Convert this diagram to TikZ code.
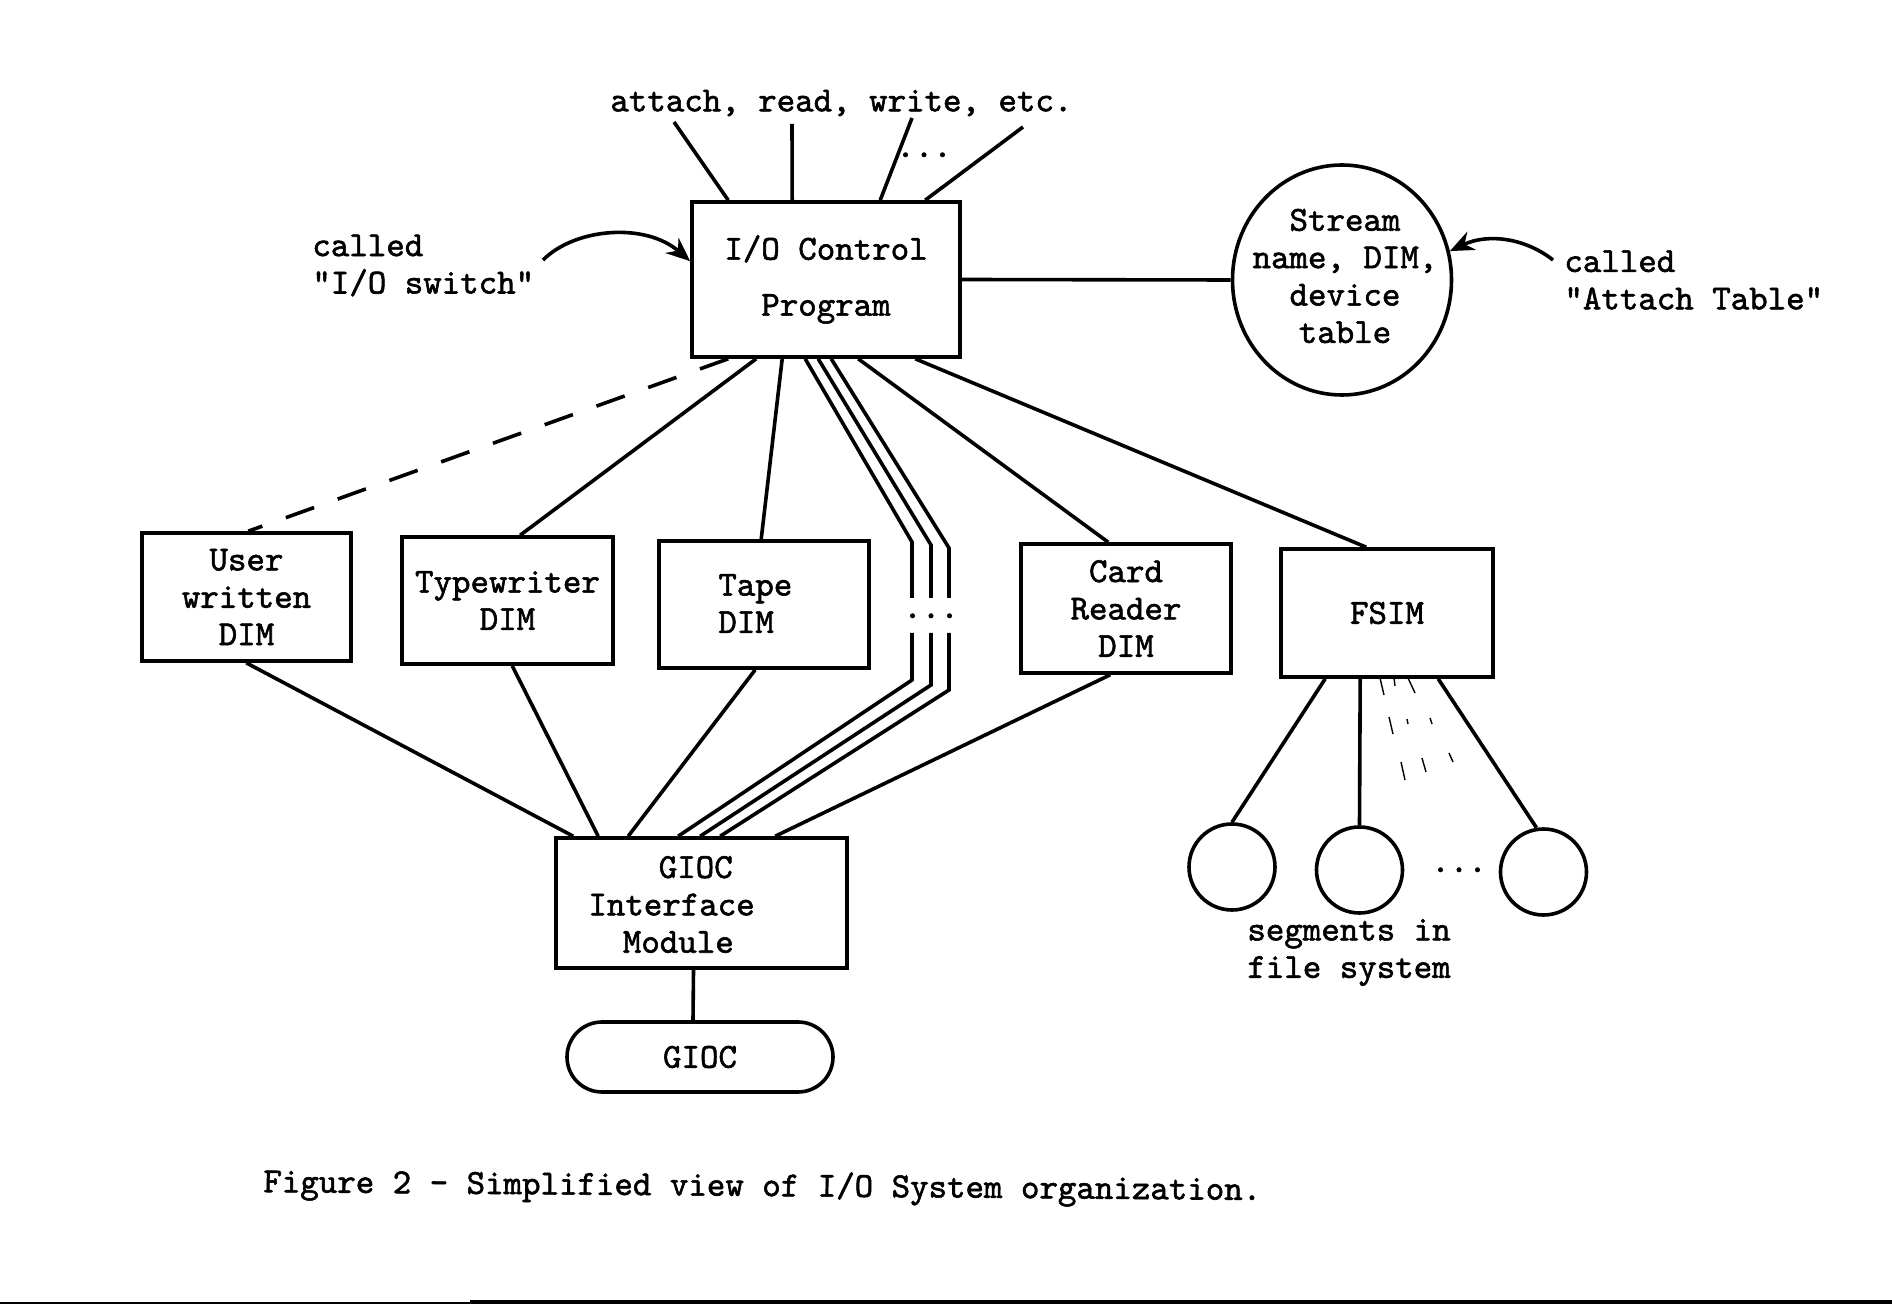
\documentclass[tikz,border=0pt]{standalone}
\usepackage{fontspec}
\newfontfamily\twf{lmmono10-regular}[Extension=.otf,FakeBold=1.6]
\usetikzlibrary{shapes.geometric,arrows.meta}
\begin{document}
\begin{tikzpicture}[x=0.5pt,y=-0.5pt,
  tw/.style={font=\fontsize{17.6pt}{18.7pt}\selectfont\twf},
  txt/.style={tw,inner sep=0pt},
  box/.style={draw,line width=1.8pt,rectangle,inner sep=0pt,tw,align=center},
  ln/.style={line width=1.8pt},
  arr/.style={line width=1.8pt,-{Stealth[length=12pt,width=10pt]}},
  faint/.style={line width=0.7pt}]
\useasboundingbox (0,0) rectangle (1892,1304);
\fill[white] (0,0) rectangle (1892,1304);

% boxes
\node[box,minimum width=134pt,minimum height=77.5pt] (io) at (826,279.5) {I/O Control\\[9.3pt]Program};
\node[draw,ellipse,line width=1.8pt,inner sep=0pt,minimum width=109.5pt,minimum height=115pt] (stream) at (1342,280) {};
\node[txt,align=center] (streamtxt) at (1345,276) {Stream\\name, DIM,\\device\\table};
\node[box,minimum width=104.5pt,minimum height=64pt] (user) at (246.5,597) {User\\written\\DIM};
\node[box,minimum width=105.5pt,minimum height=63.5pt] (tw) at (507.5,600.5) {Typewriter\\DIM};
\node[box,minimum width=105pt,minimum height=63.5pt] (tape) at (764,604.5) {};
\node[txt,align=left,anchor=west] (tapetxt) at (718,603.5) {Tape\\DIM};
\node[box,minimum width=105pt,minimum height=64.5pt] (card) at (1126,608.5) {Card\\Reader\\DIM};
\node[box,minimum width=106pt,minimum height=64pt] (fsim) at (1387,613) {FSIM};
\node[box,minimum width=145.5pt,minimum height=65pt] (gim) at (701.5,903) {};
\node[txt,align=left,anchor=west] (gimtxt) at (588,904.5) {\hspace*{2em}GIOC\\Interface\\\hspace*{0.98em}Module};
\node[draw,line width=1.8pt,rounded corners=17.5pt,minimum width=133pt,minimum height=35pt,inner sep=0pt,tw] (gioc) at (700,1057) {GIOC};
\node[draw,circle,line width=1.8pt,minimum size=43pt,inner sep=0pt] (seg1) at (1232,867) {};
\node[draw,circle,line width=1.8pt,minimum size=43pt,inner sep=0pt] (seg2) at (1359.5,870) {};
\node[draw,circle,line width=1.8pt,minimum size=43pt,inner sep=0pt] (seg3) at (1543.5,872) {};

% texts
\node[txt,anchor=west] (cmds) at (610,103) {attach, read, write, etc.};
\node[txt,anchor=west,align=left] (swl) at (312,265.5) {called\\"I/O switch"};
\node[txt,anchor=west,align=left] (atl) at (1564,280) {called\\"Attach Table"};
\node[txt,anchor=west,align=left] (segl) at (1247,952.5) {segments in\\file system};
\node[txt,anchor=west,rotate=-0.45] (cap) at (263,1184) {Figure 2 - Simplified view of I/O System organization.};
\node[txt,anchor=base] (dots1) at (924,157) {...};
\node[txt,anchor=base] (dots2) at (931,618) {...};
\node[txt,anchor=base] (dots3) at (1459,872) {...};

% top call lines
\coordinate (t1) at (674,122);
\coordinate (t2) at (792,124);
\coordinate (t3) at (912,118);
\coordinate (t4) at (1023,127);
\draw[ln] (t1) -- ([xshift=19pt]io.north west);
\draw[ln] (t2) -- ([xshift=51pt]io.north west);
\draw[ln] (t3) -- ([xshift=95pt]io.north west);
\draw[ln] (t4) -- ([xshift=117.5pt]io.north west);

% called arrows
\coordinate (swa) at (543,260);
\draw[arr] (swa) .. controls (575,228) and (645,222) .. ([yshift=-30.5pt]io.north west);
\coordinate (ata) at (1553,260);
\draw[arr] (ata) .. controls (1525,238) and (1488,233) .. (stream.15);

% io to attach table
\draw[ln] (io.east) -- (stream.west);

% io to DIMs
\draw[ln,dash pattern=on 15pt off 12.5pt] ([xshift=19pt]io.south west) -- ([xshift=54pt]user.north west);
\draw[ln] ([xshift=33pt]io.south west) -- ([xshift=60pt]tw.north west);
\draw[ln] ([xshift=46pt]io.south west) -- ([xshift=52pt]tape.north west);
\draw[ln] ([xshift=84pt]io.south west) -- ([xshift=44.5pt]card.north west);
\draw[ln] ([xshift=112.5pt]io.south west) -- ([xshift=43.5pt]fsim.north west);

% triple lines with gap
\coordinate (ka1) at (912,542); \coordinate (kb1) at (931,545); \coordinate (kc1) at (949,548);
\coordinate (ga1) at (912,598); \coordinate (gb1) at (931,598); \coordinate (gc1) at (949,598);
\coordinate (ga2) at (912,633); \coordinate (gb2) at (931,633); \coordinate (gc2) at (949,633);
\coordinate (ka2) at (912,680); \coordinate (kb2) at (931,685); \coordinate (kc2) at (949,690);
\draw[ln] ([xshift=57.5pt]io.south west) -- (ka1) -- (ga1);
\draw[ln] ([xshift=64pt]io.south west) -- (kb1) -- (gb1);
\draw[ln] ([xshift=70.5pt]io.south west) -- (kc1) -- (gc1);
\draw[ln] (ga2) -- (ka2) -- ([xshift=62pt]gim.north west);
\draw[ln] (gb2) -- (kb2) -- ([xshift=73pt]gim.north west);
\draw[ln] (gc2) -- (kc2) -- ([xshift=83pt]gim.north west);

% DIMs to GIOC interface
\draw[ln] ([xshift=53pt]user.south west) -- ([xshift=9.5pt]gim.north west);
\draw[ln] ([xshift=56pt]tw.south west) -- ([xshift=22pt]gim.north west);
\draw[ln] ([xshift=49pt]tape.south west) -- ([xshift=37pt]gim.north west);
\draw[ln] ([xshift=45.5pt]card.south west) -- ([xshift=110.5pt]gim.north west);
\draw[ln] ([xshift=-4pt]gim.south) -- ([xshift=-3.5pt]gioc.north);

% FSIM to segments
\draw[ln] ([xshift=23pt]fsim.south west) -- (seg1.north);
\draw[ln] ([xshift=40.5pt]fsim.south west) -- (seg2.north);
\draw[ln] ([xshift=79.5pt]fsim.south west) -- (seg3.99);

% faint broken lines
\draw[faint] (1380,678) -- (1384,695);
\draw[faint] (1394,678) -- (1395,686);
\draw[faint] (1408,678) -- (1415,693);
\draw[faint] (1389,717) -- (1393,734);
\draw[faint] (1407,719) -- (1408,724);
\draw[faint] (1430,718) -- (1432,724);
\draw[faint] (1401,762) -- (1405,780);
\draw[faint] (1422,758) -- (1426,772);
\draw[faint] (1449,753) -- (1453,762);

% page edge
\fill[black] (0,1302) rectangle (470,1304);
\fill[black] (470,1300) rectangle (1892,1304);
\end{tikzpicture}
\end{document}
